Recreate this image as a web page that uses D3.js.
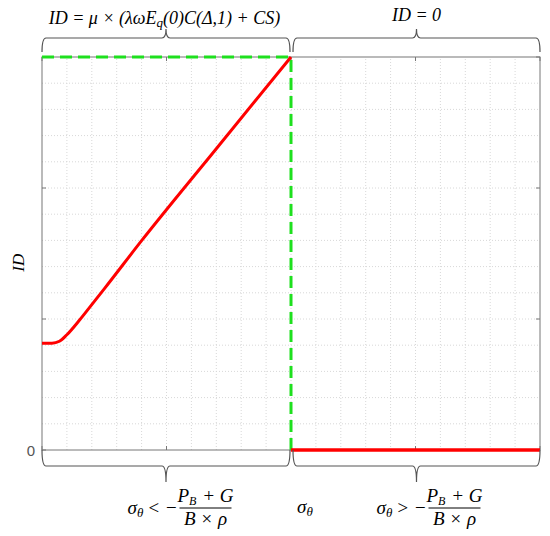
<!DOCTYPE html>
<html>
<head>
<meta charset="utf-8">
<script src="https://cdn.jsdelivr.net/npm/d3@7"></script>
<style>
	body { margin: 0; background: #fff; }
	text { font-family: "Liberation Serif", "DejaVu Serif", serif; }
</style>
</head>
<body>
<div id="d3"></div>
<script>
"use strict";

// data
let xDomain = [0, 20],
	yDomain = [0, 3],
	threshold = 10;

let curveX = [0, 0.4, 0.7, 1.0, 1.5, 2.0, 2.5, 4.0, 7.0, 10.0];
let curveY = [0.815, 0.815, 0.83, 0.88, 0.99, 1.11, 1.23, 1.598, 2.30, 3.0];

let flatX = [10, 20];
let flatY = [0, 0];

let majorXTicks = [0, 5, 10, 15, 20];
let majorYTicks = [0, 1, 2, 3];
let yTickLabels = ["0"];

let width = 550, height = 536;
let margin = {top: 57, right: 10, bottom: 86, left: 42};

let svg = d3.select("#d3").append("svg")
	.attr("width", width)
	.attr("height", height);

let innerW = width - margin.left - margin.right,
	innerH = height - margin.top - margin.bottom;

let xScale = d3.scaleLinear().domain(xDomain).range([margin.left, margin.left + innerW]);
let yScale = d3.scaleLinear().domain(yDomain).range([margin.top + innerH, margin.top]);

let chart = svg.append("g");

// minor dotted grid
chart.append("g")
	.selectAll("line")
	.data(d3.range(xDomain[0] + 1, xDomain[1]))
	.enter().append("line")
	.attr("x1", d => xScale(d)).attr("x2", d => xScale(d))
	.attr("y1", yScale(yDomain[0])).attr("y2", yScale(yDomain[1]))
	.attr("stroke", "#d8d8d8")
	.attr("stroke-dasharray", "1,2");

chart.append("g")
	.selectAll("line")
	.data(d3.range(1, 15).map(d => d * 0.2))
	.enter().append("line")
	.attr("x1", xScale(xDomain[0])).attr("x2", xScale(xDomain[1]))
	.attr("y1", d => yScale(d)).attr("y2", d => yScale(d))
	.attr("stroke", "#d8d8d8")
	.attr("stroke-dasharray", "1,2");

// box + inward ticks
chart.append("rect")
	.attr("x", xScale(xDomain[0]))
	.attr("y", yScale(yDomain[1]))
	.attr("width", innerW)
	.attr("height", innerH)
	.attr("fill", "none")
	.attr("stroke", "#777")
	.attr("stroke-width", 1);

let tickLen = 4;
majorXTicks.forEach(function(t) {
	chart.append("line")
		.attr("x1", xScale(t)).attr("x2", xScale(t))
		.attr("y1", yScale(0)).attr("y2", yScale(0) - tickLen)
		.attr("stroke", "#777");
	chart.append("line")
		.attr("x1", xScale(t)).attr("x2", xScale(t))
		.attr("y1", yScale(3)).attr("y2", yScale(3) + tickLen)
		.attr("stroke", "#777");
});
majorYTicks.forEach(function(t) {
	chart.append("line")
		.attr("x1", xScale(0)).attr("x2", xScale(0) + tickLen)
		.attr("y1", yScale(t)).attr("y2", yScale(t))
		.attr("stroke", "#777");
	chart.append("line")
		.attr("x1", xScale(20)).attr("x2", xScale(20) - tickLen)
		.attr("y1", yScale(t)).attr("y2", yScale(t))
		.attr("stroke", "#777");
});

chart.append("text")
	.attr("x", xScale(0) - 7)
	.attr("y", yScale(0) + 6)
	.attr("text-anchor", "end")
	.style("font-family", "'Liberation Sans', Arial, sans-serif")
	.style("font-size", "15px")
	.style("fill", "#555")
	.text(yTickLabels[0]);

// green dashed guides
let guide = d3.line().x(d => xScale(d[0])).y(d => yScale(d[1]));
chart.append("path")
	.attr("d", guide([[0, 3], [threshold, 3], [threshold, 0]]))
	.attr("fill", "none")
	.attr("stroke", "#1ee01e")
	.attr("stroke-width", 3)
	.attr("stroke-dasharray", "12,6");

// red curves
let line = d3.line()
	.x(d => xScale(d[0]))
	.y(d => yScale(d[1]))
	.curve(d3.curveMonotoneX);

chart.append("path")
	.attr("d", line(d3.zip(curveX, curveY)))
	.attr("fill", "none")
	.attr("stroke", "#ff0000")
	.attr("stroke-width", 3);

chart.append("path")
	.attr("d", line(d3.zip(flatX, flatY)))
	.attr("fill", "none")
	.attr("stroke", "#ff0000")
	.attr("stroke-width", 3.5);

// curly braces
function brace(x0, x1, yEnd, yBar, yTip) {
	let xm = (x0 + x1) / 2, r = 4;
	return "M" + x0 + "," + yEnd +
		" Q" + x0 + "," + yBar + " " + (x0 + r) + "," + yBar +
		" L" + (xm - r) + "," + yBar +
		" Q" + xm + "," + yBar + " " + xm + "," + yTip +
		" Q" + xm + "," + yBar + " " + (xm + r) + "," + yBar +
		" L" + (x1 - r) + "," + yBar +
		" Q" + x1 + "," + yBar + " " + x1 + "," + yEnd;
}

let braces = [
	[xScale(0), xScale(threshold) - 1, 52, 38, 29],
	[xScale(threshold) + 2, xScale(20), 52, 38, 29],
	[xScale(0), xScale(threshold) - 1, 450, 466, 482],
	[xScale(threshold) + 2, xScale(20), 450, 466, 482]
];
chart.selectAll(".brace")
	.data(braces)
	.enter().append("path")
	.attr("class", "brace")
	.attr("d", d => brace(d[0], d[1], d[2], d[3], d[4]))
	.attr("fill", "none")
	.attr("stroke", "#555")
	.attr("stroke-width", 1.2);

// labels
let fs = 18;

let t1 = svg.append("text")
	.attr("x", xScale(5) - 2)
	.attr("y", 24)
	.attr("text-anchor", "middle")
	.style("font-size", fs + "px")
	.style("font-style", "italic");
t1.append("tspan").text("ID = μ × (λωE");
t1.append("tspan").attr("baseline-shift", "-25%").style("font-size", "13px").text("q");
t1.append("tspan").text("(0)C(Δ,1) + CS)");

svg.append("text")
	.attr("x", xScale(15) + 1)
	.attr("y", 21)
	.attr("text-anchor", "middle")
	.style("font-size", fs + "px")
	.style("font-style", "italic")
	.text("ID = 0");

svg.append("text")
	.attr("transform", "translate(24," + yScale(1.43) + ") rotate(-90)")
	.attr("text-anchor", "middle")
	.style("font-size", "17px")
	.style("font-style", "italic")
	.text("ID");

function sigma(g, x, y, anchor) {
	let t = g.append("text")
		.attr("x", x).attr("y", y)
		.attr("text-anchor", anchor)
		.style("font-size", "19px")
		.style("font-style", "italic");
	t.append("tspan").text("σ");
	t.append("tspan").attr("baseline-shift", "-25%").style("font-size", "13px").text("θ");
	return t;
}

function condition(cx, sign) {
	let g = svg.append("g");
	let fracX = cx + 39;
	let t = sigma(g, cx - 39, 514, "start");
	t.append("tspan").attr("dx", 4).text(sign + " −");
	let num = g.append("text")
		.attr("x", fracX).attr("y", 502)
		.attr("text-anchor", "middle")
		.style("font-size", "19px")
		.style("font-style", "italic");
	num.append("tspan").text("P");
	num.append("tspan").attr("baseline-shift", "-25%").style("font-size", "12px").text("B");
	num.append("tspan").attr("dx", 1).text(" + G");
	g.append("line")
		.attr("x1", fracX - 26).attr("x2", fracX + 26)
		.attr("y1", 508).attr("y2", 508)
		.attr("stroke", "#000").attr("stroke-width", 1);
	g.append("text")
		.attr("x", fracX).attr("y", 525)
		.attr("text-anchor", "middle")
		.style("font-size", "19px")
		.style("font-style", "italic")
		.text("B × ρ");
}

condition(xScale(5), "<");
condition(xScale(15), ">");
sigma(svg, xScale(threshold) + 6, 513, "start");
</script>
</body>
</html>
